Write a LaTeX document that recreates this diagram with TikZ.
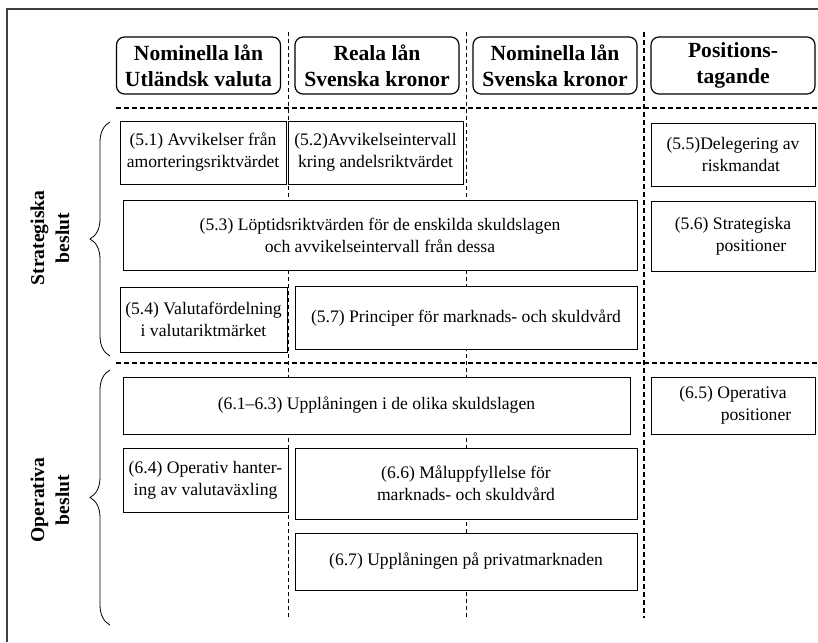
\documentclass[tikz,border=0pt]{standalone}
\usepackage{fontspec}
\setmainfont{Liberation Serif}
\usetikzlibrary{decorations.pathreplacing}

\begin{document}
\begin{tikzpicture}[
  x=0.5pt, y=-0.5pt,
  head/.style={rectangle, rounded corners=4pt, draw, fill=white, line width=0.6pt,
               minimum width=82pt, minimum height=28.5pt, align=center, inner sep=1pt,
               font=\fontsize{10.8}{13}\selectfont\bfseries},
  box/.style={rectangle, draw, fill=white, line width=0.5pt, align=center,
              inner sep=1pt, font=\fontsize{8.8}{11}\selectfont},
  sep/.style={dash pattern=on 2.5pt off 1.5pt, line width=0.8pt},
  col/.style={dash pattern=on 2pt off 1.5pt, line width=0.4pt},
  grp/.style={decorate, decoration={brace, amplitude=10pt}, line width=0.4pt},
  side/.style={rotate=90, align=center, font=\fontsize{9.8}{12.5}\selectfont\bfseries}
]

\useasboundingbox (0,0) rectangle (818,642);

% frame
\draw[line width=1pt, black!75] (7,642) -- (7,9) -- (818,9);

% separators
\draw[col] (288,32) -- (288,618);
\draw[col] (466,32) -- (466,618);
\draw[sep] (644,32) -- (644,618);
\draw[sep] (116,108) -- (818,108);
\draw[sep] (116,363) -- (818,363);

% column heads
\node[head] (hutl) at (198.5,65.5) {Nominella lån\\Utländsk valuta};
\node[head] (hreal) at (377,65.5) {Reala lån\\Svenska kronor};
\node[head] (hnom) at (555,65.5) {Nominella lån\\Svenska kronor};
\node[head] (hpos) at (733,65.5) {Positions-\\tagande};

% strategic decisions
\node[box, minimum width=83pt, minimum height=31.5pt] (b51) at (203,152.5)
  {(5.1) Avvikelser från\\amorteringsriktvärdet};
\node[box, minimum width=87.5pt, minimum height=31.5pt] (b52) at (375.5,152.5)
  {(5.2)Avvikelseintervall\\kring andelsriktvärdet};
\node[box, minimum width=82pt, minimum height=31.5pt] (b55) at (733,154.5)
  {(5.5)Delegering av\\\hspace*{8pt}riskmandat};
\node[box, minimum width=257pt, minimum height=35pt] (b53) at (380,235)
  {(5.3) Löptidsriktvärden för de enskilda skuldslagen\\och avvikelseintervall från dessa};
\node[box, minimum width=82pt, minimum height=35pt] (b56) at (733,236)
  {(5.6) Strategiska\\\hspace*{18pt}positioner};
\node[box, minimum width=83.5pt, minimum height=32.5pt] (b54) at (203.5,319.5)
  {(5.4) Valutafördelning\\i valutariktmärket};
\node[box, minimum width=171pt, minimum height=31.5pt] (b57) at (466,317.5)
  {(5.7) Principer för marknads- och skuldvård};

% operative decisions
\node[box, minimum width=253.5pt, minimum height=28.5pt] (b61) at (376.5,405.5)
  {(6.1--6.3) Upplåningen i de olika skuldslagen};
\node[box, minimum width=82pt, minimum height=28.5pt] (b65) at (733,405.5)
  {(6.5) Operativa\\\hspace*{23pt}positioner};
\node[box, minimum width=82.5pt, minimum height=32pt] (b64) at (205.5,480)
  {(6.4) Operativ hanter-\\ing av valutaväxling};
\node[box, minimum width=171pt, minimum height=35.5pt] (b66) at (466,483.5)
  {(6.6) Måluppfyllelse för\\marknads- och skuldvård};
\node[box, minimum width=171pt, minimum height=28.5pt] (b67) at (466,561.5)
  {(6.7) Upplåningen på privatmarknaden};

% row groups
\coordinate (strtop) at (110,122);
\coordinate (strbot) at (110,356);
\coordinate (optop) at (110,370);
\coordinate (opbot) at (110,625);
\draw[grp] (strbot) -- (strtop);
\draw[grp] (opbot) -- (optop);
\node[side] (lstr) at (50,238) {Strategiska\\beslut};
\node[side] (lop) at (50,500) {Operativa\\beslut};

\end{tikzpicture}
\end{document}
